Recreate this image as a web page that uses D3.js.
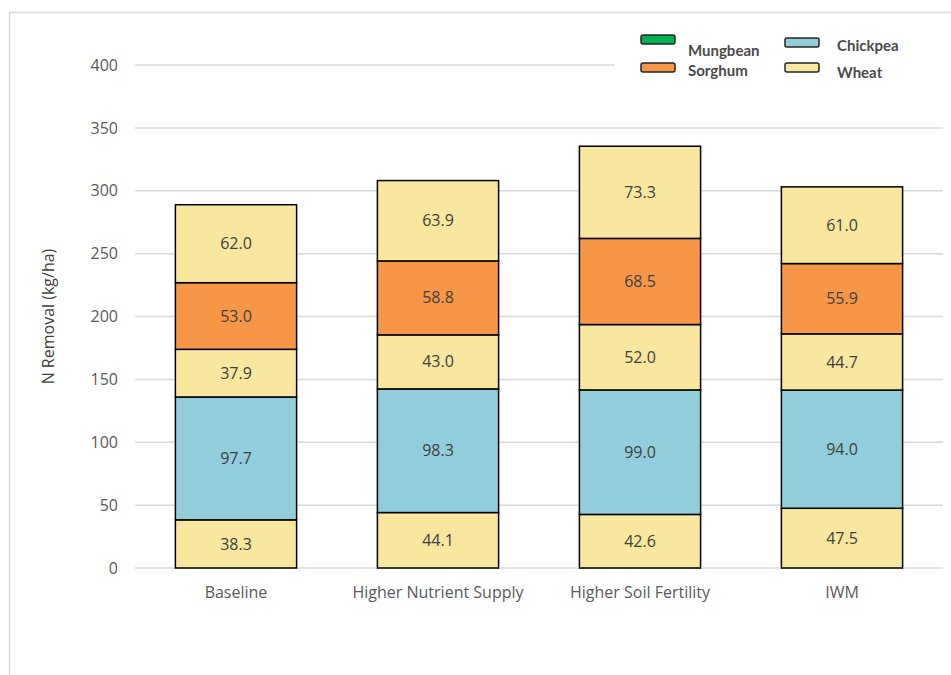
<!DOCTYPE html>
<html>
<head>
<meta charset="utf-8">
<script src="https://cdn.jsdelivr.net/npm/d3@7"></script>
<style>
  body { margin: 0; background: #fff; }
  svg { display: block; }
  .tick text { fill: #595959; }
</style>
</head>
<body>
<div id="chart"></div>
<script>
// categories and series (kg/ha), stacked bottom to top
var categories = ["Baseline", "Higher Nutrient Supply", "Higher Soil Fertility", "IWM"];
var wheat1   = [38.3, 44.1, 42.6, 47.5];
var chickpea = [97.7, 98.3, 99.0, 94.0];
var wheat2   = [37.9, 43.0, 52.0, 44.7];
var sorghum  = [53.0, 58.8, 68.5, 55.9];
var wheat3   = [62.0, 63.9, 73.3, 61.0];
var yTicks = [0, 50, 100, 150, 200, 250, 300, 350, 400];

var colors = { Mungbean: "#00B050", Sorghum: "#F79646", Chickpea: "#92CDDC", Wheat: "#F9E69F" };

var layers = [
  { crop: "Wheat", values: wheat1 },
  { crop: "Chickpea", values: chickpea },
  { crop: "Wheat", values: wheat2 },
  { crop: "Sorghum", values: sorghum },
  { crop: "Wheat", values: wheat3 }
];

var W = 951, H = 675;
var margin = { top: 65, right: 8, bottom: 107, left: 135 };
var width = W - margin.left - margin.right,
    height = H - margin.top - margin.bottom;

var svg = d3.select("#chart").append("svg")
    .attr("width", W)
    .attr("height", H);

// outer frame (left and top edges visible)
svg.append("path")
    .attr("d", "M9.5," + H + "V12.5H" + W)
    .attr("fill", "none")
    .attr("stroke", "#d9d9d9")
    .attr("stroke-width", 1.5);

var g = svg.append("g")
    .attr("transform", "translate(" + margin.left + "," + margin.top + ")");

var x = d3.scaleBand()
    .domain(categories)
    .range([0, width])
    .paddingInner(0.4)
    .paddingOuter(0.2);

var y = d3.scaleLinear()
    .domain([0, 400])
    .range([height, 0]);

// gridlines
g.selectAll(".grid")
    .data(yTicks)
  .enter().append("line")
    .attr("class", "grid")
    .attr("x1", 0)
    .attr("x2", width)
    .attr("y1", function(d) { return y(d); })
    .attr("y2", function(d) { return y(d); })
    .attr("stroke", "#d9d9d9")
    .attr("stroke-width", 1.5);

// y axis labels
var yAxis = d3.axisLeft(y).tickValues(yTicks).tickSize(0).tickPadding(17);
g.append("g")
    .call(yAxis)
    .call(function(s) { s.select(".domain").remove(); })
    .selectAll("text")
    .style("font-family", "'Open Sans', sans-serif")
    .style("font-size", "16px");

// x axis labels
var xAxis = d3.axisBottom(x).tickSize(0).tickPadding(19);
g.append("g")
    .attr("transform", "translate(0," + height + ")")
    .call(xAxis)
    .call(function(s) { s.select(".domain").remove(); })
    .selectAll("text")
    .style("font-family", "'Open Sans', sans-serif")
    .style("font-size", "16px");

// stacked segments
var stackData = [];
categories.forEach(function(c, i) {
  var base = 0;
  layers.forEach(function(l) {
    stackData.push({ cat: c, crop: l.crop, y0: base, y1: base + l.values[i], v: l.values[i] });
    base += l.values[i];
  });
});

var seg = g.selectAll(".seg")
    .data(stackData)
  .enter().append("g")
    .attr("class", "seg");

seg.append("rect")
    .attr("x", function(d) { return x(d.cat); })
    .attr("width", x.bandwidth())
    .attr("y", function(d) { return y(d.y1); })
    .attr("height", function(d) { return y(d.y0) - y(d.y1); })
    .attr("fill", function(d) { return colors[d.crop]; })
    .attr("stroke", "#000")
    .attr("stroke-width", 1.5);

seg.append("text")
    .attr("x", function(d) { return x(d.cat) + x.bandwidth() / 2; })
    .attr("y", function(d) { return (y(d.y0) + y(d.y1)) / 2; })
    .attr("dy", "0.35em")
    .attr("text-anchor", "middle")
    .style("font-family", "'Open Sans', sans-serif")
    .style("font-size", "16px")
    .attr("fill", "#404040")
    .text(function(d) { return d3.format(".1f")(d.v); });

// y axis title
svg.append("text")
    .attr("transform", "translate(54," + (margin.top + height / 2) + ") rotate(-90)")
    .attr("text-anchor", "middle")
    .style("font-family", "'Open Sans', sans-serif")
    .style("font-size", "16px")
    .attr("fill", "#404040")
    .text("N Removal (kg/ha)");

// legend
var legend = svg.append("g");
legend.append("rect")
    .attr("x", 615).attr("y", 20)
    .attr("width", 333).attr("height", 72)
    .attr("fill", "#fff");

var legendItems = [
  { name: "Mungbean", sx: 641, sy: 35, tx: 688, ty: 56 },
  { name: "Sorghum", sx: 641, sy: 63, tx: 688, ty: 76 },
  { name: "Chickpea", sx: 785, sy: 38, tx: 837, ty: 51 },
  { name: "Wheat", sx: 785, sy: 63, tx: 837, ty: 78 }
];

legendItems.forEach(function(d) {
  legend.append("rect")
      .attr("x", d.sx).attr("y", d.sy)
      .attr("width", 34).attr("height", 9)
      .attr("rx", 2)
      .attr("fill", colors[d.name])
      .attr("stroke", "#262626")
      .attr("stroke-width", 1.5);
  legend.append("text")
      .attr("x", d.tx).attr("y", d.ty)
      .style("font-family", "Lato, sans-serif")
      .style("font-weight", "bold")
      .style("font-size", "15px")
      .attr("fill", "#4a4a4a")
      .text(d.name);
});
</script>
</body>
</html>
